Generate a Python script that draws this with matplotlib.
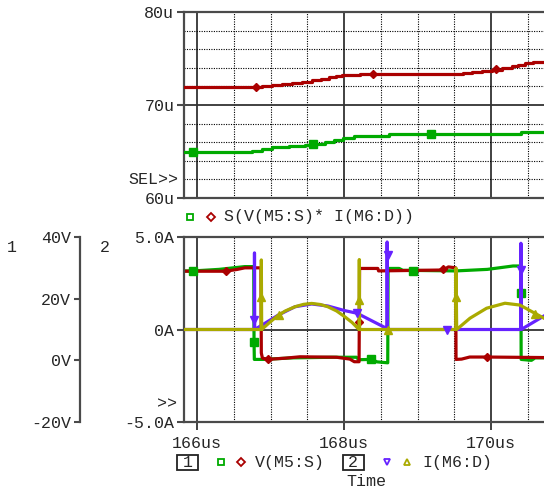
import matplotlib
matplotlib.use("Agg")
import matplotlib.pyplot as plt
from matplotlib.lines import Line2D
from matplotlib.patches import Rectangle

# ---------------- data ----------------
# top plot: S(V(M5:S)*I(M6:D))  (units: u)
top_red_t = [165.823, 166.884, 167.02, 167.16, 167.29, 167.43, 167.565, 167.69, 167.796,
             167.89, 167.973, 168.218, 169.51, 169.62, 169.74, 169.88, 170.01, 170.15,
             170.286, 170.37, 170.46, 170.57, 170.72]
top_red_s = [71.94, 72.08, 72.10, 72.22, 72.33, 72.50, 72.66, 72.82, 72.98,
             73.10, 73.19, 73.30, 73.33, 73.45, 73.55, 73.68, 73.80, 73.98,
             74.19, 74.35, 74.48, 74.58, 74.62]
top_grn_t = [165.823, 166.75, 166.884, 167.02, 167.25, 167.47, 167.58, 167.74, 167.86,
             167.99, 168.136, 168.61, 170.408, 170.72]
top_grn_s = [64.95, 65.10, 65.24, 65.45, 65.56, 65.70, 65.84, 66.05, 66.25,
             66.48, 66.67, 66.91, 67.13, 67.13]
top_red_mk_t = [166.80, 168.39, 170.07]
top_red_mk_s = [71.94, 73.33, 73.85]
top_grn_mk_t = [165.95, 167.58, 169.18]
top_grn_mk_s = [64.95, 65.84, 66.91]

# bottom plot: V(M5:S) (V)
v_grn_t = [165.823, 165.95, 166.3, 166.65, 166.772, 166.776, 166.78, 166.9, 167.3, 167.85,
           168.17, 168.2, 168.367, 168.45, 168.595, 168.60, 168.75, 168.8, 169.52, 169.95,
           170.3, 170.405, 170.408, 170.41, 170.55, 170.6, 170.72]
v_grn_v = [29.0, 29.0, 29.5, 30.4, 30.4, 6.0, 0.3, 0.3, 0.8, 1.0,
           1.0, 0.2, 0.3, -0.5, -0.8, 29.8, 29.8, 29.2, 29.0, 29.5,
           30.6, 30.6, 22.0, 0.3, 0.0, 0.8, 0.8]
v_red_t = [165.823, 166.39, 166.55, 166.65, 166.87, 166.875, 166.89, 166.966, 167.2, 167.4,
           167.9, 168.08, 168.14, 168.205, 168.208, 168.212, 168.46, 168.47, 169.35, 169.42,
           169.52, 169.524, 169.6, 169.71, 169.94, 170.72]
v_red_v = [28.9, 28.9, 29.5, 30.0, 30.0, 2.4, 0.7, 0.33, 0.7, 1.15,
           1.0, 0.4, -0.45, -0.45, 12.5, 29.8, 29.8, 29.0, 29.3, 30.3,
           30.0, 0.3, 0.4, 1.07, 1.07, 0.9]
v_grn_mk_t = [165.95, 166.776, 168.367, 168.94, 170.408]
v_grn_mk_v = [29.0, 6.0, 0.3, 29.0, 22.0]
v_red_mk_t = [166.39, 166.966, 168.208, 169.35, 169.94]
v_red_mk_v = [28.9, 0.33, 12.5, 29.5, 1.07]

# bottom plot: I(M6:D) (A)
i_blu_t = [165.823, 166.78, 166.782, 166.785, 166.925, 167.106, 167.333, 167.56, 167.78,
           168.01, 168.177, 168.585, 168.587, 168.59, 170.405, 170.407, 170.41, 170.72]
i_blu_a = [0.0, 0.0, 4.14, 0.0, 0.34, 0.78, 1.23, 1.38, 1.27,
           1.02, 0.88, 0.05, 4.73, 0.0, 0.0, 4.66, 0.0, 0.73]
i_olv_t = [165.823, 166.872, 166.875, 166.88, 166.993, 167.10, 167.2, 167.333, 167.45,
           167.56, 167.68, 167.78, 167.9, 168.01, 168.11, 168.205, 168.208, 168.212,
           169.52, 169.524, 169.533, 169.714, 169.94, 170.19, 170.394, 170.6, 170.72]
i_olv_a = [0.0, 0.0, 3.76, 0.0, 0.40, 0.75, 1.0, 1.23, 1.36,
           1.41, 1.35, 1.23, 1.0, 0.69, 0.38, 0.0, 3.78, 0.0,
           0.0, 3.31, 0.0, 0.61, 1.15, 1.42, 1.32, 0.87, 0.61]
i_blu_mk_t = [166.78, 168.177, 168.599, 169.40, 170.408]
i_blu_mk_a = [0.51, 0.88, 4.05, 0.0, 3.22]
i_olv_mk_t = [166.875, 167.116, 168.208, 168.599, 169.524, 170.6]
i_olv_mk_a = [1.78, 0.78, 1.6, 0.0, 1.78, 0.85]

x_major = [166, 168, 170]
x_minor = [166.5, 167, 167.5, 168.5, 169, 169.5, 170.5]
x_labels = ["166us", "168us", "170us"]
top_yticks = [60, 70, 80]
top_ylabels = ["60u", "70u", "80u"]
top_yminor = [62, 64, 66, 68, 72, 74, 76, 78]
v_ticks = [-20, 0, 20, 40]
v_labels = ["-20V", "0V", "20V", "40V"]
i_ticks = [-5, 0, 5]
i_labels = ["-5.0A", "0A", "5.0A"]

# ---------------- style ----------------
W, H = 544, 490
FONT = "Liberation Mono"
FS = 12
plt.rcParams["font.family"] = [FONT, "DejaVu Sans"]
RED, GRN, BLU, OLV = "#aa0000", "#00aa00", "#6622ff", "#aaaa00"
SPC = "#4a4a4a"
TXT = "#262626"
LW = 2.3

fig = plt.figure(figsize=(W / 100, H / 100), dpi=100)


def fx(x):
    return x / W


def fy(y):
    return 1 - y / H


X0, X1 = 165.823, 170.721
AXL, AXR = 184, 544


def frame(ax):
    for s in ["top", "bottom", "left"]:
        ax.spines[s].set_color(SPC)
        ax.spines[s].set_linewidth(1.6)
    ax.spines["right"].set_visible(False)


def vgrid(ax):
    for t in x_major:
        ax.axvline(t, color="#333333", lw=1.3, zorder=1)
    for t in x_minor:
        ax.axvline(t, color="#000000", lw=0.8, ls=(0, (1, 1.2)), zorder=1)


# ---- top plot ----
ax_t = fig.add_axes([fx(AXL), fy(198), fx(AXR) - fx(AXL), fy(12) - fy(198)])
ax_t.set_xlim(X0, X1)
ax_t.set_ylim(60, 80)
frame(ax_t)
vgrid(ax_t)
ax_t.axhline(70, color="#333333", lw=1.3, zorder=1)
for yv in top_yminor:
    ax_t.axhline(yv, color="#000000", lw=0.8, ls=(0, (1, 1.2)), zorder=1)
ax_t.set_xticks([])
ax_t.set_yticks(top_yticks)
ax_t.set_yticklabels(top_ylabels, fontsize=FS, color=TXT)
ax_t.tick_params(axis="y", direction="out", length=5, width=1.5, color=SPC, pad=2)
ax_t.plot(top_grn_t, top_grn_s, color=GRN, lw=LW, drawstyle="steps-post", zorder=3)
ax_t.plot(top_red_t, top_red_s, color=RED, lw=LW, drawstyle="steps-post", zorder=3)
ax_t.plot(top_grn_mk_t, top_grn_mk_s, ls="none", marker="s", ms=5.5, color=GRN, zorder=4)
ax_t.plot(top_red_mk_t, top_red_mk_s, ls="none", marker="D", ms=4.5, color=RED, zorder=4)

# ---- bottom plot ----
pos_b = [fx(AXL), fy(422), fx(AXR) - fx(AXL), fy(237) - fy(422)]
ax_v = fig.add_axes(pos_b)
ax_v.set_xlim(X0, X1)
ax_v.set_ylim(-20, 40)
frame(ax_v)
ax_v.spines["left"].set_position(("axes", (80 - AXL) / (AXR - AXL)))
vgrid(ax_v)
ax_v.set_xticks(x_major)
ax_v.set_xticklabels(x_labels, fontsize=FS, color=TXT)
ax_v.tick_params(axis="x", direction="out", length=6, width=1.3, color="#333333", pad=4)
ax_v.set_yticks(v_ticks)
ax_v.set_yticklabels(v_labels, fontsize=FS, color=TXT)
ax_v.tick_params(axis="y", direction="out", length=4.5, width=1.5, color=SPC, pad=2)
ax_v.plot(v_grn_t, v_grn_v, color=GRN, lw=LW, zorder=3)
ax_v.plot(v_red_t, v_red_v, color=RED, lw=LW, zorder=3)
ax_v.plot(v_grn_mk_t, v_grn_mk_v, ls="none", marker="s", ms=5.5, color=GRN, zorder=4)
ax_v.plot(v_red_mk_t, v_red_mk_v, ls="none", marker="D", ms=4.5, color=RED, zorder=4)

ax_i = fig.add_axes(pos_b, sharex=ax_v)
ax_i.patch.set_visible(False)
for s in ["top", "bottom", "right"]:
    ax_i.spines[s].set_visible(False)
ax_i.spines["left"].set_color(SPC)
ax_i.spines["left"].set_linewidth(1.6)
ax_i.set_ylim(-5, 5)
ax_i.tick_params(axis="x", bottom=False, labelbottom=False)
ax_i.set_yticks(i_ticks)
ax_i.set_yticklabels(i_labels, fontsize=FS, color=TXT)
ax_i.tick_params(axis="y", direction="out", length=5, width=1.5, color=SPC, pad=2)
ax_i.axhline(0, color="#333333", lw=1.3, zorder=1)
ax_i.plot(i_blu_t, i_blu_a, color=BLU, lw=LW, zorder=3)
ax_i.plot(i_olv_t, i_olv_a, color=OLV, lw=LW, zorder=3)
ax_i.plot(i_blu_mk_t, i_blu_mk_a, ls="none", marker="v", ms=6, color=BLU, zorder=4)
ax_i.plot(i_olv_mk_t, i_olv_mk_a, ls="none", marker="^", ms=6, color=OLV, zorder=4)
ax_v.set_xlim(X0, X1)

# ---------------- annotations ----------------
def ftxt(x, y, s, ha="left", va="center", **kw):
    fig.text(fx(x), fy(y), s, ha=ha, va=va, fontsize=FS, color=TXT, family=FONT, **kw)


def fmark(x, y, m, c, ms=4.5):
    fig.add_artist(Line2D([fx(x)], [fy(y)], marker=m, ms=ms, mfc="none", mec=c,
                          mew=1.3, ls="none", transform=fig.transFigure))


ftxt(178, 179, "SEL>>", ha="right")
ftxt(177, 404, ">>", ha="right")
ftxt(12, 247, "1", ha="center")
ftxt(105, 247, "2", ha="center")

# top legend
fmark(190, 217, "s", GRN)
fmark(210.5, 217, "D", RED, ms=3.8)
ftxt(224, 216, "S(V(M5:S)* I(M6:D))")

# bottom legend
fig.add_artist(Rectangle((fx(177), fy(470)), fx(198) - fx(177), fy(455) - fy(470),
                         fill=False, ec="#222222", lw=1.3, transform=fig.transFigure))
ftxt(187.5, 462, "1", ha="center")
fmark(221, 462, "s", GRN)
fmark(241, 462, "D", RED, ms=3.8)
ftxt(255, 462, "V(M5:S)")
fig.add_artist(Rectangle((fx(342.5), fy(470)), fx(363.5) - fx(342.5), fy(455) - fy(470),
                         fill=False, ec="#222222", lw=1.3, transform=fig.transFigure))
ftxt(353, 462, "2", ha="center")
fmark(386.5, 461.5, "v", BLU, ms=5)
fmark(407, 461.5, "^", OLV, ms=5)
ftxt(422, 462, "I(M6:D)")
ftxt(366, 481, "Time", ha="center")

fig.savefig("out.png", dpi=100)
